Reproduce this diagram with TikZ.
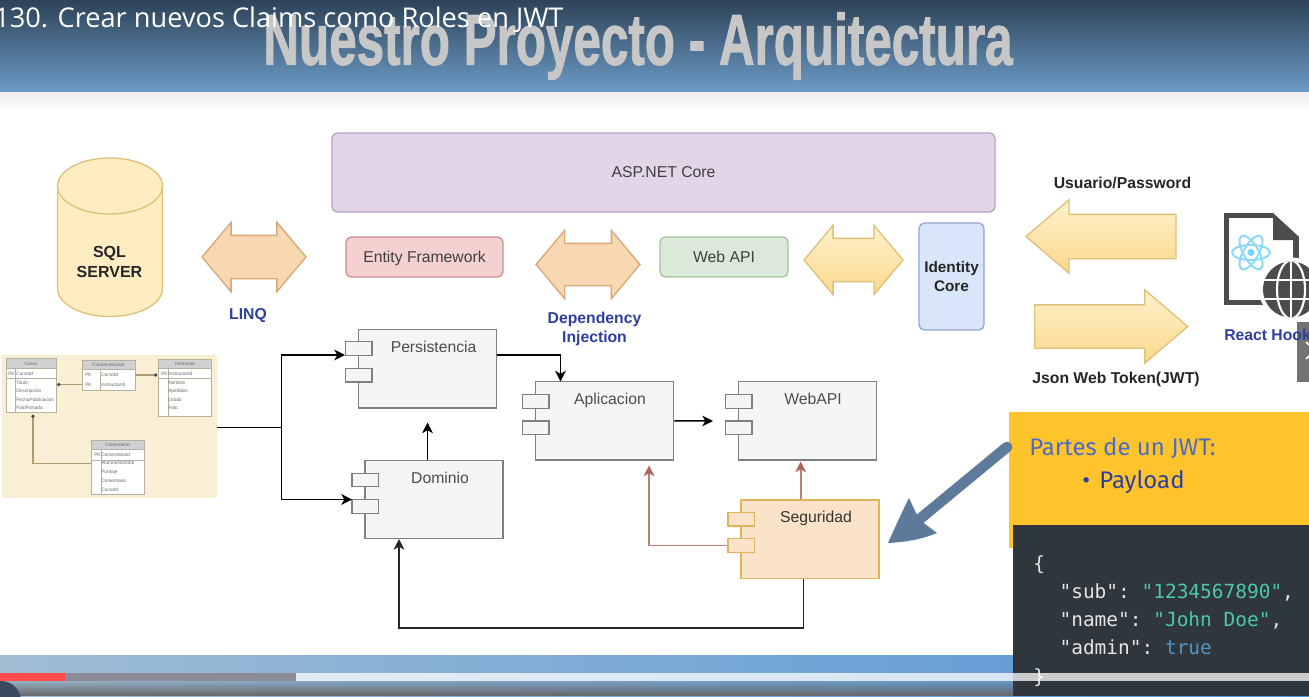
\documentclass[tikz,border=0pt]{standalone}
\usepackage{fontspec}
\setmainfont{Liberation Sans}
\setmonofont{DejaVu Sans Mono}
\newfontfamily\titlefont{Open Sans}
\newfontfamily\slidefont{Fira Sans}
\newfontfamily\headfont[UprightFont=* Bold,FakeBold=1.6]{Liberation Sans}
\usepackage{tikz}
\usetikzlibrary{arrows.meta,shapes.arrows,shapes.geometric,fadings}
\definecolor{inkblue}{HTML}{2E3F9E}
\definecolor{slatearrow}{HTML}{5D7A9A}
\definecolor{softred}{HTML}{BE7F7A}
\definecolor{headred}{HTML}{B0625C}
\definecolor{peach}{HTML}{F7D8B0}
\definecolor{peachline}{HTML}{D9A878}
\definecolor{sandtop}{HTML}{FFF1CC}
\definecolor{sandlow}{HTML}{F9D88C}
\definecolor{sandline}{HTML}{DFC078}
\definecolor{secfill}{HTML}{FAE3C8}
\definecolor{secline}{HTML}{E3B35C}
\definecolor{erback}{HTML}{F9EFD5}
\definecolor{erline}{HTML}{B5B0A0}
\definecolor{erarrow}{HTML}{B09A70}
\definecolor{playknob}{HTML}{3A4A5E}
\newcommand{\fs}[1]{\fontsize{#1}{\the\dimexpr #1pt*6/5\relax}\selectfont}
\def\px{.75pt}
\tikzset{
	flowbox/.style={draw,rounded corners=4pt,line width=1pt,inner sep=0,text=black!75,text depth=0pt,font=\fs{11.8}},
	comp/.style={draw=black!50,fill=black!4,line width=1.1pt,inner sep=0,minimum width=138*\px,minimum height=78.5*\px},
	tab/.style={comp,minimum width=26.5*\px,minimum height=13.5*\px},
	seccomp/.style={draw=secline,fill=secfill},
	complabel/.style={text=black!70,text depth=0pt,font=\fs{11.8}},
	link/.style={draw=black,line width=1.1pt,-{Stealth[length=8pt,width=8pt,inset=2.2pt]}},
	redlink/.style={draw=softred,line width=1.2pt,-{Stealth[length=8pt,width=8pt,inset=2.2pt,color=headred]}},
	bothways/.style={double arrow,draw,line width=1pt,inner xsep=0,double arrow tip angle=100,double arrow head indent=0pt},
	oneway/.style={single arrow,draw=sandline,top color=sandtop,bottom color=sandlow,line width=1pt,inner xsep=0,single arrow tip angle=81,single arrow head indent=0pt},
	bluetext/.style={text=inkblue,font=\bfseries\fs{11.8},align=center},
	blacktext/.style={text=black!85,font=\bfseries\fs{11.8},align=center},
	ertable/.style={draw=erline,fill=white,line width=.7pt,inner sep=0},
	erhead/.style={ertable,fill=black!18},
	ertext/.style={text=black!60,font=\fs{3.6},inner sep=0},
	erlink/.style={draw=erarrow,line width=.8pt,-{Circle[length=2.5pt,color=black!70]}}
}
\begin{document}
\begin{tikzpicture}[x=.75pt,y=-.75pt]
	\clip (0,0) rectangle (1309,696);
	\fill[white] (0,0) rectangle (1309,696);
	% header and footer of the slide
	\shade[top color={rgb,255:red,46;green,67;blue,88},bottom color={rgb,255:red,108;green,155;blue,198}] (0,0) rectangle (1309,92);
	\shade[top color=black!6,bottom color=white] (0,92) rectangle (1309,112);
	\shade[left color={rgb,255:red,160;green,189;blue,212},right color={rgb,255:red,85;green,150;blue,216}] (0,655) rectangle (1309,696);
	\fill[black!60,path fading=north] (0,678) rectangle (1309,696);
	\node[text=black!22,font=\headfont\fs{54},xscale=.686,inner sep=0] (slideTitle) at (638,46) {Nuestro Proyecto - Arquitectura};

	% top row
	\node[flowbox,draw={rgb,255:red,185;green,163;blue,200},fill={rgb,255:red,225;green,213;blue,231},minimum width=663*\px,minimum height=79*\px] (asp) at (663.5,172.5) {ASP.NET Core};
	\node[flowbox,draw={rgb,255:red,201;green,144;blue,142},fill={rgb,255:red,244;green,208;blue,207},minimum width=157*\px,minimum height=40*\px] (ef) at (424.5,257) {Entity Framework};
	\node[flowbox,draw={rgb,255:red,165;green,196;blue,159},fill={rgb,255:red,219;green,233;blue,217},minimum width=128*\px,minimum height=40*\px] (api) at (724,257) {Web API};
	\node[flowbox,draw={rgb,255:red,142;green,168;blue,208},fill={rgb,255:red,217;green,230;blue,250},text=black!85,minimum width=65*\px,minimum height=107*\px,align=center,font=\bfseries\fs{11.5}] (identity) at (951.5,276.5) {Identity\\Core};

	% database
	\filldraw[draw=sandline,fill=sandtop!85!sandlow,line width=1pt] (57.5,186) arc[x radius=52.5,y radius=28,start angle=180,end angle=360] -- (162.5,288.5) arc[x radius=52.5,y radius=28,start angle=0,end angle=180] -- cycle;
	\draw[draw=sandline,line width=1pt] (57.5,186) arc[x radius=52.5,y radius=28,start angle=180,end angle=0];
	\node[text=black!85,font=\bfseries\fs{12},align=center] (sql) at (109.5,262) {SQL\\SERVER};

	% arrows between the boxes
	\node[bothways,draw=peachline,fill=peach,inner ysep=21*\px,double arrow head extend=13*\px,minimum height=104*\px] (arrLinq) at (254,257) {};
	\node[bothways,draw=peachline,fill=peach,inner ysep=20.5*\px,double arrow head extend=13*\px,minimum height=104*\px] (arrDep) at (588,264.5) {};
	\node[bothways,draw=sandline,top color=sandtop,bottom color=sandlow,inner ysep=21*\px,double arrow head extend=13*\px,minimum height=99*\px] (arrCore) at (853.5,260) {};
	\node[oneway,shape border rotate=180,inner ysep=21.5*\px,single arrow head extend=14.5*\px,minimum height=150*\px] (arrUser) at (1114,236.5) {};
	\node[oneway,inner ysep=21*\px,single arrow head extend=15*\px,minimum height=153*\px] (arrToken) at (1098.5,326.5) {};

	\node[bluetext] (linq) at (248,316) {LINQ};
	\node[bluetext] (dep) at (594.5,329) {Dependency\\Injection};
	\node[blacktext] (usuario) at (1122.5,183) {Usuario/Password};
	\node[blacktext] (token) at (1116,379) {Json Web Token(JWT)};

	% react file icon
	\draw[black!70,line width=4pt] (1273,215.5) -- (1226.5,215.5) -- (1226.5,302.5) -- (1272,302.5);
	\draw[black!70,line width=4pt] (1296,236) -- (1296,264);
	\fill[black!70] (1273,213) -- (1298,236) -- (1298,240) -- (1273,240) -- cycle;
	\foreach \ang in {0,60,120}
		\draw[cyan!45!white,line width=1.5pt,rotate around={\ang:(1251,252.5)}] (1251,252.5) ellipse[x radius=19,y radius=7.5];
	\fill[cyan!55!white] (1251,252.5) circle[radius=3.5];
	\fill[white] (1291,289.5) circle[radius=32];
	\fill[black!70] (1291,289.5) circle[radius=28];
	\begin{scope}
		\clip (1291,289.5) circle[radius=28];
		\draw[white,line width=1.6pt] (1291,260) -- (1291,320) (1260,280) -- (1320,280) (1260,299) -- (1320,299);
		\draw[white,line width=1.6pt] (1291,289.5) ellipse[x radius=14,y radius=29];
	\end{scope}

	% entity model picture
	\node[fill=erback,minimum width=215*\px,minimum height=143*\px,inner sep=0] (er) at (109.5,426.5) {};
	\node[ertable,minimum width=50*\px,minimum height=53*\px] (curso) at (31,385.5) {};
	\node[erhead,minimum width=50*\px,minimum height=9.5*\px] (cursoH) at (31,363.7) {};
	\node[ertable,minimum width=53*\px,minimum height=29*\px] (cursoInst) at (108.5,375.5) {};
	\node[erhead,minimum width=53*\px,minimum height=8.5*\px] (cursoInstH) at (108.5,365.2) {};
	\node[ertable,minimum width=53.5*\px,minimum height=57*\px] (inst) at (185.2,387.5) {};
	\node[erhead,minimum width=53.5*\px,minimum height=9*\px] (instH) at (185.2,363.5) {};
	\node[ertable,minimum width=53*\px,minimum height=54*\px] (coment) at (117.5,467) {};
	\node[erhead,minimum width=53*\px,minimum height=9*\px] (comentH) at (117.5,444.5) {};
	\draw[draw=erline] (6,378) -- (56,378) (15.5,368.7) -- (15.5,412);
	\draw[draw=erline] (158.5,378) -- (212,378) (168,368) -- (168,416);
	\draw[draw=erline] (91,460) -- (144,460) (101,449) -- (101,494);
	\draw[draw=erline] (100,369.5) -- (100,390);
	\node[ertext] (cursoHt) at (cursoH) {Curso};
	\node[ertext] (cursoInstHt) at (cursoInstH) {CursoInstructor};
	\node[ertext] (instHt) at (instH) {Instructor};
	\node[ertext] (comentHt) at (comentH) {Comentario};
	\foreach \xx/\yy/\txt [count=\i] in {10/373.6/PK,18/373.6/CursoId,18/383/Titulo,18/391/Descripcion,18/399.5/FechaPublicacion,18/408/FotoPortada,
		87/375/PK,87/385/PK,103/375/CursoId,103/385/InstructorId,
		163/373.6/PK,170/373.6/InstructorId,170/383/Nombre,170/391/Apellidos,170/399.5/Grado,170/408/Foto,
		96/454.5/PK,103/454.5/ComentarioId,103/463/AlumnoNombre,103/472/Puntaje,103/481/Comentario,103/490/CursoId}
		\node[ertext,anchor=west] (erRow\i) at (\xx-2,\yy) {\txt};
	\coordinate (cursoIn) at (57,384.5);
	\coordinate (cursoBelow) at (33,414.5);
	\coordinate (instIn) at (157.5,375);
	\draw[erlink] (82,384.5) -- (cursoIn);
	\draw[erlink] (135,375) -- (instIn);
	\draw[erlink] (91,463.5) -- (33,463.5) -- (cursoBelow);

	% components
	\node[comp] (persistencia) at (427.5,368.7) {};
	\node[tab] (persistenciaA) at (358.8,348.5) {};
	\node[tab] (persistenciaB) at (358.8,375.2) {};
	\node[complabel] (persistenciaT) at (433.6,347) {Persistencia};
	\node[comp] (aplicacion) at (604.6,420.8) {};
	\node[tab] (aplicacionA) at (535.8,401.5) {};
	\node[tab] (aplicacionB) at (535.8,427.8) {};
	\node[complabel] (aplicacionT) at (610,399) {Aplicacion};
	\node[comp] (webapi) at (807.5,420.8) {};
	\node[tab] (webapiA) at (738.8,401.5) {};
	\node[tab] (webapiB) at (738.8,427.8) {};
	\node[complabel] (webapiT) at (813,399) {WebAPI};
	\node[comp] (dominio) at (434,499.5) {};
	\node[tab] (dominioA) at (365.3,480) {};
	\node[tab] (dominioB) at (365.3,506.5) {};
	\node[complabel] (dominioT) at (440,478) {Dominio};
	\node[comp,seccomp] (seguridad) at (810,539.2) {};
	\node[tab,seccomp] (seguridadA) at (741.3,519.2) {};
	\node[tab,seccomp] (seguridadB) at (741.3,545.5) {};
	\node[complabel,text=black!80] (seguridadT) at (816,517) {Seguridad};

	% connectors
	\coordinate (persistenciaIn) at (345,355);
	\coordinate (dominioIn) at (352,499.5);
	\coordinate (split) at (281.5,427.5);
	\coordinate (dominioOut) at (427.5,422.5);
	\coordinate (aplicacionOut) at (713,421);
	\coordinate (aplicacionIn) at (649,465.5);
	\coordinate (seguridadUp) at (800.7,461.5);
	\coordinate (seguridadDown) at (803.6,628);
	\coordinate (aplicacionTop) at (560.5,381.5);
	\coordinate (dominioBottom) at (399,539);
	\draw[link] (er.east |- split) -- (split) |- (persistenciaIn);
	\draw[link] (split) |- (dominioIn);
	\draw[link] (persistencia.east |- persistenciaIn) -| (aplicacionTop);
	\draw[link] (dominio.north -| dominioOut) -- (dominioOut);
	\draw[link] (aplicacion.east) -- (aplicacionOut);
	\draw[redlink] (seguridadB.west) -| (aplicacionIn);
	\draw[redlink] (seguridad.north -| seguridadUp) -- (seguridadUp);
	\draw[link,draw=black!85] (seguridad.south -| seguridadDown) -- (seguridadDown) -| (dominioBottom);

	% panel with the token
	\node[fill={rgb,255:red,255;green,196;blue,44},minimum width=300*\px,minimum height=136*\px,inner sep=0] (panel) at (1159,480) {};
	\node[fill={rgb,255:red,47;green,54;blue,60},minimum width=296*\px,minimum height=171*\px,inner sep=0] (code) at (1161,610.5) {};
	\node[anchor=west,inner sep=0,text={rgb,255:red,77;green,107;blue,198},font=\slidefont\fs{18}] (partes) at (1029,448) {Partes de un JWT:};
	\node[anchor=west,inner sep=0,text=inkblue,font=\slidefont\fs{18}] (payload) at (1082,482) {\textbullet\hspace{7pt}Payload};
	\node[anchor=north west,inner sep=0,align=left,text=black!10,font=\ttfamily\fontsize{14.6}{21.2}\selectfont] (json) at (1033,555) {%
		\{\\
		\hspace*{1.35em}"sub": \textcolor[HTML]{4CC9A4}{"1234567890"},\\
		\hspace*{1.35em}"name": \textcolor[HTML]{4CC9A4}{"John Doe"},\\
		\hspace*{1.35em}"admin": \textcolor[HTML]{4F94C8}{true}\\
		\}};

	% thick arrow from the panel
	\coordinate (bigStart) at (1007,447);
	\coordinate (bigEnd) at (921,518);
	\draw[slatearrow,line width=8pt,line cap=round] (bigStart) -- (bigEnd);
	\fill[slatearrow] (888,543) .. controls (896,525) and (903,510) .. (909,498) -- (916,513) -- (925,524) -- (937,533) .. controls (920,540) and (905,542) .. cycle;

	% player bar
	\fill[red!70!white] (0,673) rectangle (65,681);
	\fill[blue!10!black!45] (65,673) rectangle (296,681);
	\fill[white,opacity=.75] (296,673) rectangle (1309,681);
	\fill[playknob] (1,701) circle[radius=20];
	\fill[black!55!white] (1297,322) rectangle (1309,382);
	\draw[white,line width=1.2pt] (1306,342) -- (1309,345) (1309,356) -- (1306,359);
	\node[bluetext,anchor=west,inner sep=0] (hooks) at (1224,335) {React Hook};

	% video title
	\node[anchor=west,inner sep=0,text=white,font=\titlefont\fs{20.4}] (video) at (-6,20) {130. Crear nuevos Claims como Roles en JWT};
\end{tikzpicture}
\end{document}
